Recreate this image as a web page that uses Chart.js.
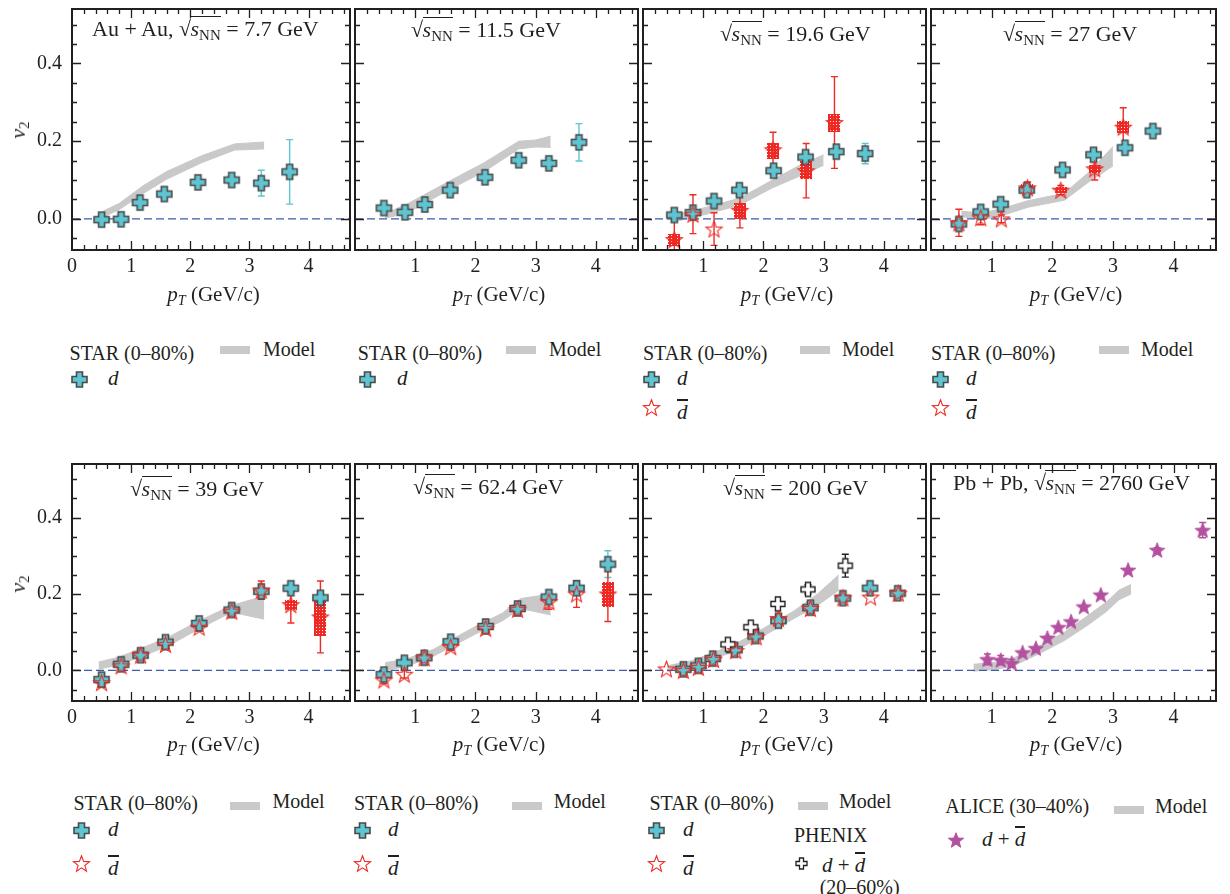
<!DOCTYPE html>
<html>
<head>
<meta charset="utf-8">
<title>Deuteron v2 vs pT</title>
<script src="https://cdn.jsdelivr.net/npm/chart.js@4.4.1/dist/chart.umd.min.js"></script>
<style>
html,body{margin:0;padding:0;background:#fff;}
body{width:1230px;height:894px;position:relative;overflow:hidden;font-family:"Liberation Serif","Times New Roman",serif;color:#231f20;}
canvas.pc,canvas.ic{position:absolute;}
.t{position:absolute;white-space:nowrap;line-height:1;}
.c{text-align:center;}
.sb{font-size:0.68em;position:relative;top:0.3em;}
.ov{display:inline-block;border-top:1.3px solid #231f20;padding-top:1px;line-height:1;margin-left:-0.5px;}
.ob{display:inline-block;border-top:2px solid #231f20;padding-top:2px;line-height:0.95;}
.rot{transform:translate(-50%,-50%) rotate(-90deg);}
</style>
</head>
<body>
<script>
// ---------------- axes ----------------
const xRange = [0, 4.7];
const yRange = [-0.08, 0.54];
const xTicksWithZero = [0, 1, 2, 3, 4];
const xTicksNoZero = [1, 2, 3, 4];
const yTickValues = [0.0, 0.2, 0.4];
const zeroLevel = 0;

// ---------------- Au+Au 7.7 GeV ----------------
const pt_7_7 = [0.5, 0.83, 1.15, 1.56, 2.13, 2.7, 3.2, 3.68];
const d_7_7 = [-0.002, -0.001, 0.042, 0.064, 0.094, 0.100, 0.092, 0.121];
const dErr_7_7 = [0, 0, 0, 0, 0, 0, 0.033, 0.083];
const modelPt_7_7 = [0.5, 0.8, 1.2, 1.6, 2.2, 2.75, 3.25];
const modelLo_7_7 = [0.003, 0.024, 0.065, 0.102, 0.145, 0.177, 0.180];
const modelHi_7_7 = [0.018, 0.040, 0.085, 0.122, 0.163, 0.193, 0.198];

// ---------------- 11.5 GeV ----------------
const pt_11_5 = [0.48, 0.83, 1.16, 1.58, 2.16, 2.72, 3.22, 3.72];
const d_11_5 = [0.028, 0.017, 0.037, 0.074, 0.107, 0.151, 0.143, 0.197];
const dErr_11_5 = [0, 0, 0, 0, 0, 0, 0.013, 0.048];
const modelPt_11_5 = [0.5, 0.85, 1.6, 2.15, 2.72, 3.0, 3.25];
const modelLo_11_5 = [0.002, 0.014, 0.078, 0.122, 0.180, 0.185, 0.184];
const modelHi_11_5 = [0.014, 0.037, 0.100, 0.145, 0.200, 0.203, 0.213];

// ---------------- 19.6 GeV ----------------
const pt_19_6 = [0.52, 0.83, 1.18, 1.6, 2.17, 2.7, 3.21, 3.69];
const d_19_6 = [0.010, 0.016, 0.046, 0.074, 0.124, 0.159, 0.173, 0.168];
const dErr_19_6 = [0, 0, 0, 0, 0, 0, 0, 0.026];
const ptBar_19_6 = [0.52, 0.83, 1.18, 1.61, 2.16, 2.71, 3.18];
const dbar_19_6 = [-0.053, 0.012, -0.026, 0.022, 0.178, 0.124, 0.248];
const dbarErr_19_6 = [0.07, 0.05, 0.042, 0.045, 0.045, 0.07, 0.118];
const dbarSysLo_19_6 = [-0.07, null, null, 0.0, 0.154, 0.103, 0.223];
const dbarSysHi_19_6 = [-0.038, null, null, 0.042, 0.196, 0.149, 0.270];
const modelPt_19_6 = [0.5, 1.05, 1.6, 2.15, 2.6, 3.0];
const modelLo_19_6 = [-0.008, 0.012, 0.035, 0.080, 0.110, 0.138];
const modelHi_19_6 = [0.008, 0.030, 0.053, 0.100, 0.138, 0.165];

// ---------------- 27 GeV ----------------
const pt_27 = [0.46, 0.82, 1.15, 1.58, 2.17, 2.68, 3.2, 3.66];
const d_27 = [-0.013, 0.018, 0.038, 0.074, 0.126, 0.165, 0.183, 0.226];
const dErr_27 = [0, 0, 0, 0, 0, 0, 0, 0];
const ptBar_27 = [0.46, 0.82, 1.16, 1.59, 2.14, 2.7, 3.17];
const dbar_27 = [-0.010, 0.003, 0.0, 0.080, 0.074, 0.129, 0.236];
const dbarErr_27 = [0.035, 0.018, 0.010, 0.015, 0.012, 0.029, 0.050];
const dbarSysLo_27 = [null, null, null, 0.071, 0.066, 0.119, 0.221];
const dbarSysHi_27 = [null, null, null, 0.089, 0.082, 0.139, 0.252];
const modelPt_27 = [0.5, 0.85, 1.2, 1.6, 2.2, 2.6, 3.0];
const modelLo_27 = [0.006, -0.002, 0.010, 0.030, 0.048, 0.095, 0.136];
const modelHi_27 = [0.020, 0.015, 0.028, 0.047, 0.066, 0.120, 0.186];

// ---------------- 39 GeV ----------------
const pt_39 = [0.5, 0.83, 1.16, 1.58, 2.15, 2.7, 3.2, 3.7, 4.2];
const d_39 = [-0.024, 0.016, 0.040, 0.074, 0.123, 0.158, 0.207, 0.215, 0.190];
const dErr_39 = [0, 0, 0, 0, 0, 0, 0, 0, 0.015];
const dbar_39 = [-0.032, 0.012, 0.040, 0.068, 0.113, 0.155, 0.210, 0.172, 0.140];
const dbarErr_39 = [0.012, 0.012, 0.015, 0.010, 0.010, 0.012, 0.024, 0.048, 0.094];
const dbarSysLo_39 = [null, null, null, null, null, null, null, 0.158, 0.090];
const dbarSysHi_39 = [null, null, null, null, null, null, null, 0.185, 0.181];
const modelPt_39 = [0.45, 0.8, 1.25, 1.6, 2.15, 2.7, 3.25];
const modelLo_39 = [0.003, 0.015, 0.041, 0.062, 0.109, 0.152, 0.134];
const modelHi_39 = [0.022, 0.035, 0.063, 0.085, 0.130, 0.170, 0.195];

// ---------------- 62.4 GeV ----------------
const pt_62_4 = [0.48, 0.82, 1.15, 1.59, 2.17, 2.7, 3.22, 3.68, 4.2];
const d_62_4 = [-0.011, 0.020, 0.033, 0.075, 0.115, 0.162, 0.192, 0.215, 0.278];
const dErr_62_4 = [0, 0, 0, 0, 0, 0, 0, 0, 0.035];
const dbar_62_4 = [-0.025, -0.010, 0.033, 0.062, 0.110, 0.160, 0.180, 0.200, 0.200];
const dbarErr_62_4 = [0.010, 0.010, 0.010, 0.010, 0.010, 0.010, 0.020, 0.035, 0.072];
const dbarSysLo_62_4 = [null, null, null, null, null, null, null, null, 0.166];
const dbarSysHi_62_4 = [null, null, null, null, null, null, null, null, 0.232];
const modelPt_62_4 = [0.5, 0.85, 1.3, 2.0, 2.45, 2.75, 3.25];
const modelLo_62_4 = [0.000, 0.010, 0.037, 0.095, 0.130, 0.162, 0.145];
const modelHi_62_4 = [0.020, 0.030, 0.055, 0.115, 0.150, 0.188, 0.200];

// ---------------- 200 GeV ----------------
const pt_200 = [0.67, 0.92, 1.16, 1.52, 1.87, 2.25, 2.78, 3.32, 3.77, 4.23];
const d_200 = [0.003, 0.012, 0.031, 0.054, 0.090, 0.130, 0.164, 0.189, 0.215, 0.202];
const ptBar_200 = [0.39, 0.67, 0.92, 1.17, 1.54, 1.88, 2.25, 2.78, 3.32, 3.78, 4.24];
const dbar_200 = [0.004, 0.000, 0.008, 0.029, 0.052, 0.088, 0.136, 0.162, 0.190, 0.192, 0.202];
const ptPhenix_200 = [1.41, 1.79, 2.24, 2.74, 3.36];
const phenix_200 = [0.068, 0.113, 0.174, 0.212, 0.274];
const phenixErr_200 = [0, 0, 0, 0.012, 0.030];
const modelPt_200 = [0.4, 0.8, 1.2, 1.6, 2.0, 2.5, 2.9, 3.25];
const modelLo_200 = [-0.003, 0.008, 0.030, 0.057, 0.090, 0.135, 0.170, 0.210];
const modelHi_200 = [0.012, 0.025, 0.048, 0.075, 0.110, 0.155, 0.200, 0.250];

// ---------------- Pb+Pb 2760 GeV ----------------
const ptAlice_2760 = [0.93, 1.15, 1.33, 1.51, 1.73, 1.92, 2.1, 2.31, 2.52, 2.8, 3.25, 3.73, 4.48];
const alice_2760 = [0.029, 0.027, 0.019, 0.047, 0.058, 0.085, 0.113, 0.128, 0.167, 0.198, 0.263, 0.315, 0.367];
const aliceErr_2760 = [0.014, 0.012, 0.010, 0, 0, 0, 0, 0, 0, 0, 0, 0.006, 0.020];
const modelPt_2760 = [0.7, 1.1, 1.4, 1.8, 2.2, 2.6, 2.9, 3.1, 3.3];
const modelLo_2760 = [-0.002, 0.003, 0.015, 0.045, 0.078, 0.120, 0.155, 0.185, 0.200];
const modelHi_2760 = [0.016, 0.022, 0.035, 0.065, 0.100, 0.145, 0.180, 0.210, 0.225];

// ---------------- styling / layout ----------------
const INK = '#231f20';
const CYAN = 'rgb(94,197,210)';
const RED = '#ee2a24';
const MAGENTA = '#b3509f';
const BAND = '#c9c9c9';
const FAMILY = '"Liberation Serif", "Times New Roman", serif';
const TICKFONT = {family: FAMILY, size: 20};
const COLS = [[72, 355], [355, 643], [643, 931], [931, 1221]];
const ROWS = [[2, 250], [457, 701]];

function makeCross(size, arm, fill, stroke, lw) {
  const pad = 2, c = document.createElement('canvas');
  c.width = c.height = size + pad * 2;
  const g = c.getContext('2d');
  const o = pad, s = size, a = arm, m = (s - a) / 2;
  g.beginPath();
  g.moveTo(o + m, o); g.lineTo(o + m + a, o); g.lineTo(o + m + a, o + m);
  g.lineTo(o + s, o + m); g.lineTo(o + s, o + m + a); g.lineTo(o + m + a, o + m + a);
  g.lineTo(o + m + a, o + s); g.lineTo(o + m, o + s); g.lineTo(o + m, o + m + a);
  g.lineTo(o, o + m + a); g.lineTo(o, o + m); g.lineTo(o + m, o + m); g.closePath();
  g.fillStyle = fill; g.fill();
  g.lineWidth = lw; g.strokeStyle = stroke; g.lineJoin = 'miter'; g.stroke();
  return c;
}
function makeStar(size, ratio, fill, stroke, lw) {
  const pad = 2, c = document.createElement('canvas');
  c.width = c.height = size + pad * 2;
  const g = c.getContext('2d');
  const R = size / 2, r = R * ratio, cx = c.width / 2, cy = c.height / 2 + R * 0.095;
  g.beginPath();
  for (let i = 0; i < 10; i++) {
    const ang = -Math.PI / 2 + i * Math.PI / 5, rr = i % 2 ? r : R;
    g.lineTo(cx + rr * Math.cos(ang), cy + rr * Math.sin(ang));
  }
  g.closePath();
  if (fill) { g.fillStyle = fill; g.fill(); }
  g.lineWidth = lw; g.strokeStyle = stroke; g.lineJoin = 'miter'; g.stroke();
  return c;
}
const HATCH = (() => {
  const c = document.createElement('canvas'); c.width = c.height = 3;
  const g = c.getContext('2d');
  g.fillStyle = RED; g.fillRect(0, 0, 3, 3);
  g.fillStyle = '#ffffff'; g.fillRect(1, 1, 1, 1);
  return c;
})();

const STYLE = {
  d: {img: makeCross(15, 6, CYAN, '#4a4a4a', 1.6), order: 3, errColor: CYAN},
  dbar: {img: makeStar(17, 0.42, null, RED, 1.1), order: 1, errColor: RED},
  phenix: {img: makeCross(14, 5, '#ffffff', INK, 1.4), order: 2, errColor: INK},
  alice: {img: makeStar(16, 0.42, MAGENTA, MAGENTA, 1), order: 1, errColor: MAGENTA}
};

const xy = (xs, ys) => xs.map((x, i) => ({x: x, y: ys[i]}));

const decor = {
  id: 'decor',
  afterDatasetDraw(chart, args) {
    if (args.index !== 2) return; // after the zero line: boxes + error bars
    const {ctx, chartArea: a} = chart;
    const xs = chart.scales.x, ys = chart.scales.y;
    ctx.save();
    ctx.beginPath(); ctx.rect(a.left, a.top, a.right - a.left, a.bottom - a.top); ctx.clip();
    const hatch = ctx.createPattern(HATCH, 'repeat');
    chart.data.datasets.forEach(ds => {
      if (ds.sysLo) ds.data.forEach((p, i) => {
        const lo = ds.sysLo[i], hi = ds.sysHi[i];
        if (lo == null) return;
        const px = xs.getPixelForValue(p.x), pt = ys.getPixelForValue(hi), pb = ys.getPixelForValue(lo);
        ctx.fillStyle = hatch;
        ctx.fillRect(Math.round(px - 6), Math.round(pt), 12, Math.round(pb - pt));
      });
      if (ds.errs) ds.data.forEach((p, i) => {
        const e = ds.errs[i];
        if (!e) return;
        const px = xs.getPixelForValue(p.x), pt = ys.getPixelForValue(p.y + e), pb = ys.getPixelForValue(p.y - e);
        ctx.strokeStyle = ds.errColor; ctx.lineWidth = 1.4;
        ctx.beginPath();
        ctx.moveTo(px, pt); ctx.lineTo(px, pb);
        ctx.moveTo(px - 3.5, pt); ctx.lineTo(px + 3.5, pt);
        ctx.moveTo(px - 3.5, pb); ctx.lineTo(px + 3.5, pb);
        ctx.stroke();
      });
    });
    ctx.restore();
  },
  afterDraw(chart) {
    const {ctx, chartArea: a} = chart;
    const xs = chart.scales.x, ys = chart.scales.y;
    ctx.save();
    ctx.strokeStyle = INK; ctx.lineWidth = 1.3;
    ctx.beginPath();
    for (let k = -1; k <= 10; k++) {
      const py = Math.round(ys.getPixelForValue(k * 0.05)) + 0.5;
      const L = (k % 4 === 0) ? 9 : 5;
      ctx.moveTo(a.left, py); ctx.lineTo(a.left + L, py);
      ctx.moveTo(a.right, py); ctx.lineTo(a.right - L, py);
    }
    for (let k = 1; k <= 23; k++) {
      const px = Math.round(xs.getPixelForValue(k * 0.2)) + 0.5;
      const L = (k % 5 === 0) ? 9 : 5;
      ctx.moveTo(px, a.bottom); ctx.lineTo(px, a.bottom - L);
      ctx.moveTo(px, a.top); ctx.lineTo(px, a.top + L);
    }
    ctx.stroke();
    ctx.lineWidth = 2;
    ctx.strokeRect(a.left, a.top, a.right - a.left, a.bottom - a.top);
    ctx.restore();
  }
};

const panelDefs = [
  {row: 0, col: 0, showY: true, xt: xTicksWithZero, model: [modelPt_7_7, modelLo_7_7, modelHi_7_7],
   series: [{kind: 'd', pt: pt_7_7, v: d_7_7, err: dErr_7_7}]},
  {row: 0, col: 1, showY: false, xt: xTicksNoZero, model: [modelPt_11_5, modelLo_11_5, modelHi_11_5],
   series: [{kind: 'd', pt: pt_11_5, v: d_11_5, err: dErr_11_5}]},
  {row: 0, col: 2, showY: false, xt: xTicksNoZero, model: [modelPt_19_6, modelLo_19_6, modelHi_19_6],
   series: [{kind: 'd', pt: pt_19_6, v: d_19_6, err: dErr_19_6},
            {kind: 'dbar', pt: ptBar_19_6, v: dbar_19_6, err: dbarErr_19_6, sysLo: dbarSysLo_19_6, sysHi: dbarSysHi_19_6}]},
  {row: 0, col: 3, showY: false, xt: xTicksNoZero, model: [modelPt_27, modelLo_27, modelHi_27],
   series: [{kind: 'd', pt: pt_27, v: d_27, err: dErr_27},
            {kind: 'dbar', pt: ptBar_27, v: dbar_27, err: dbarErr_27, sysLo: dbarSysLo_27, sysHi: dbarSysHi_27}]},
  {row: 1, col: 0, showY: true, xt: xTicksWithZero, model: [modelPt_39, modelLo_39, modelHi_39],
   series: [{kind: 'd', pt: pt_39, v: d_39, err: dErr_39},
            {kind: 'dbar', pt: pt_39, v: dbar_39, err: dbarErr_39, sysLo: dbarSysLo_39, sysHi: dbarSysHi_39}]},
  {row: 1, col: 1, showY: false, xt: xTicksNoZero, model: [modelPt_62_4, modelLo_62_4, modelHi_62_4],
   series: [{kind: 'd', pt: pt_62_4, v: d_62_4, err: dErr_62_4},
            {kind: 'dbar', pt: pt_62_4, v: dbar_62_4, err: dbarErr_62_4, sysLo: dbarSysLo_62_4, sysHi: dbarSysHi_62_4}]},
  {row: 1, col: 2, showY: false, xt: xTicksNoZero, model: [modelPt_200, modelLo_200, modelHi_200],
   series: [{kind: 'd', pt: pt_200, v: d_200, err: null},
            {kind: 'dbar', pt: ptBar_200, v: dbar_200, err: null},
            {kind: 'phenix', pt: ptPhenix_200, v: phenix_200, err: phenixErr_200}]},
  {row: 1, col: 3, showY: false, xt: xTicksNoZero, model: [modelPt_2760, modelLo_2760, modelHi_2760],
   series: [{kind: 'alice', pt: ptAlice_2760, v: alice_2760, err: aliceErr_2760}]}
];

const PADL = 72, PADR = 4, PADT = 2, PADB = 40;
function zeroPad(sc) { sc.paddingTop = 0; sc.paddingBottom = 0; sc.paddingLeft = 0; sc.paddingRight = 0; }
function buildPanel(def) {
  const [x0, x1] = COLS[def.col], [y0, y1] = ROWS[def.row];
  const W = (x1 - x0) + PADL + PADR, H = (y1 - y0) + PADT + PADB;
  const cv = document.createElement('canvas');
  cv.className = 'pc';
  cv.width = W; cv.height = H;
  cv.style.left = (x0 - PADL) + 'px'; cv.style.top = (y0 - PADT) + 'px';
  cv.style.width = W + 'px'; cv.style.height = H + 'px';
  document.body.appendChild(cv);
  const datasets = [
    {type: 'line', data: xy(def.model[0], def.model[1]), borderColor: BAND, borderWidth: 1, pointRadius: 0, fill: false, order: 20, tension: 0},
    {type: 'line', data: xy(def.model[0], def.model[2]), borderColor: BAND, borderWidth: 1, pointRadius: 0, fill: '-1', backgroundColor: BAND, order: 19, tension: 0},
    {type: 'line', data: xRange.map(x => ({x: x, y: zeroLevel})), borderColor: '#3d5ba9', borderWidth: 1.4, borderDash: [8, 4], pointRadius: 0, fill: false, order: 18}
  ];
  def.series.forEach(s => {
    const st = STYLE[s.kind];
    datasets.push({type: 'scatter', data: xy(s.pt, s.v), pointStyle: st.img, pointRadius: 8, pointHoverRadius: 8,
      order: st.order, errs: s.err, errColor: st.errColor, sysLo: s.sysLo, sysHi: s.sysHi, clip: 0});
  });
  new Chart(cv, {
    type: 'scatter',
    data: {datasets: datasets},
    options: {
      responsive: false, animation: false, devicePixelRatio: 1, events: [],
      layout: {padding: {left: 0, right: PADR, top: PADT, bottom: 0}},
      plugins: {legend: {display: false}, tooltip: {enabled: false}},
      scales: {
        x: {
          type: 'linear', min: xRange[0], max: xRange[1],
          grid: {display: false, drawTicks: false, tickLength: 0}, border: {display: false},
          afterBuildTicks: sc => { sc.ticks = def.xt.map(v => ({value: v})); },
          afterFit: sc => { sc.height = PADB; zeroPad(sc); },
          ticks: {padding: 5, font: TICKFONT, color: INK, maxRotation: 0, autoSkip: false, callback: v => String(v)}
        },
        y: {
          type: 'linear', min: yRange[0], max: yRange[1],
          grid: {display: false, drawTicks: false, tickLength: 0}, border: {display: false},
          afterBuildTicks: sc => { sc.ticks = yTickValues.map(v => ({value: v})); },
          afterFit: sc => { sc.width = PADL; zeroPad(sc); },
          ticks: {display: def.showY, padding: 10, font: TICKFONT, color: INK, autoSkip: false, callback: v => v.toFixed(1)}
        }
      }
    },
    plugins: [decor]
  });
}
panelDefs.forEach(buildPanel);

// ---------------- text ----------------
function txt(html, left, cy, size, cls) {
  const d = document.createElement('div');
  d.className = 't' + (cls ? ' ' + cls : '');
  d.style.left = left + 'px'; d.style.top = (cy - size / 2) + 'px'; d.style.fontSize = size + 'px';
  d.innerHTML = html;
  document.body.appendChild(d);
  return d;
}
function ctxt(html, x0, x1, cy, size) {
  const d = txt(html, x0, cy, size, 'c');
  d.style.width = (x1 - x0) + 'px';
  return d;
}
function icon(img, cx, cy) {
  const c = document.createElement('canvas');
  c.className = 'ic'; c.width = img.width; c.height = img.height;
  c.style.left = (cx - img.width / 2) + 'px'; c.style.top = (cy - img.height / 2) + 'px';
  c.getContext('2d').drawImage(img, 0, 0);
  document.body.appendChild(c);
}

const SQ = '<span>\u221A</span><span class="ov"><i>s</i><span class="sb">NN</span></span>';
const titles = [
  ['Au + Au, ' + SQ + ' = 7.7 GeV', 92, 27],
  [SQ + ' = 11.5 GeV', 411, 28],
  [SQ + ' = 19.6 GeV', 720, 32],
  [SQ + ' = 27 GeV', 1003, 32],
  [SQ + ' = 39 GeV', 130, 487],
  [SQ + ' = 62.4 GeV', 413, 485],
  [SQ + ' = 200 GeV', 723, 486],
  ['Pb + Pb, ' + SQ + ' = 2760 GeV', 953, 481]
];
titles.forEach(t => txt(t[0], t[1], t[2], 22));

const PT = '<i>p</i><span class="sb"><i>T</i></span> (GeV/c)';
COLS.forEach(c => { ctxt(PT, c[0], c[1], 294, 21); ctxt(PT, c[0], c[1], 744, 21); });
[[18, 130], [18, 584]].forEach(p => {
  const d = txt('<i>v</i><span class="sb">2</span>', p[0], p[1], 22, 'rot');
  d.style.top = p[1] + 'px';
});

const D = '<i>d</i>';
const DB = '<span class="ob"><i>d</i></span>';
// top-row legends
const topStarX = [69.6, 357.7, 643, 931];
const topBarX = [220, 506, 800, 1099];
const topModelX = [263, 549, 842, 1141];
const topIconX = [79, 367, 651.5, 940];
const topDX = [108, 397, 677, 966];
for (let i = 0; i < 4; i++) {
  txt('STAR (0\u201380%)', topStarX[i], 353, 20);
  const b = document.createElement('div');
  b.style.cssText = 'position:absolute;background:' + BAND + ';left:' + topBarX[i] + 'px;top:346px;width:30px;height:8px;';
  document.body.appendChild(b);
  txt('Model', topModelX[i], 349, 20);
  icon(STYLE.d.img, topIconX[i], 379);
  txt(D, topDX[i], 378, 21);
  if (i >= 2) { icon(STYLE.dbar.img, topIconX[i], 407); txt(DB, topDX[i], 409, 21); }
}
// bottom-row legends
const botStarX = [73.4, 354, 649.4];
const botBarX = [230, 512, 798];
const botModelX = [272.4, 553.7, 839];
const botIconX = [81.6, 362.7, 656.5];
const botDX = [108, 388, 683];
for (let i = 0; i < 3; i++) {
  txt('STAR (0\u201380%)', botStarX[i], 803, 20);
  const b = document.createElement('div');
  b.style.cssText = 'position:absolute;background:' + BAND + ';left:' + botBarX[i] + 'px;top:802px;width:30px;height:8px;';
  document.body.appendChild(b);
  txt('Model', botModelX[i], 801, 20);
  icon(STYLE.d.img, botIconX[i], 830);
  txt(D, botDX[i], 829, 21);
  icon(STYLE.dbar.img, botIconX[i], 863);
  txt(DB, botDX[i], 865, 21);
}
txt('PHENIX', 794, 835, 20);
icon(makeCross(11, 4, '#ffffff', INK, 1.3), 801.5, 863.5);
txt(D + ' + ' + DB, 822, 862, 21);
txt('(20\u201360%)', 819.7, 887, 20);
txt('ALICE (30\u201340%)', 945.3, 806, 20);
(() => {
  const b = document.createElement('div');
  b.style.cssText = 'position:absolute;background:' + BAND + ';left:1114px;top:806px;width:30px;height:8px;';
  document.body.appendChild(b);
})();
txt('Model', 1155, 806, 20);
icon(STYLE.alice.img, 955.5, 840);
txt(D + ' + ' + DB, 982, 836, 21);
</script>
</body>
</html>
